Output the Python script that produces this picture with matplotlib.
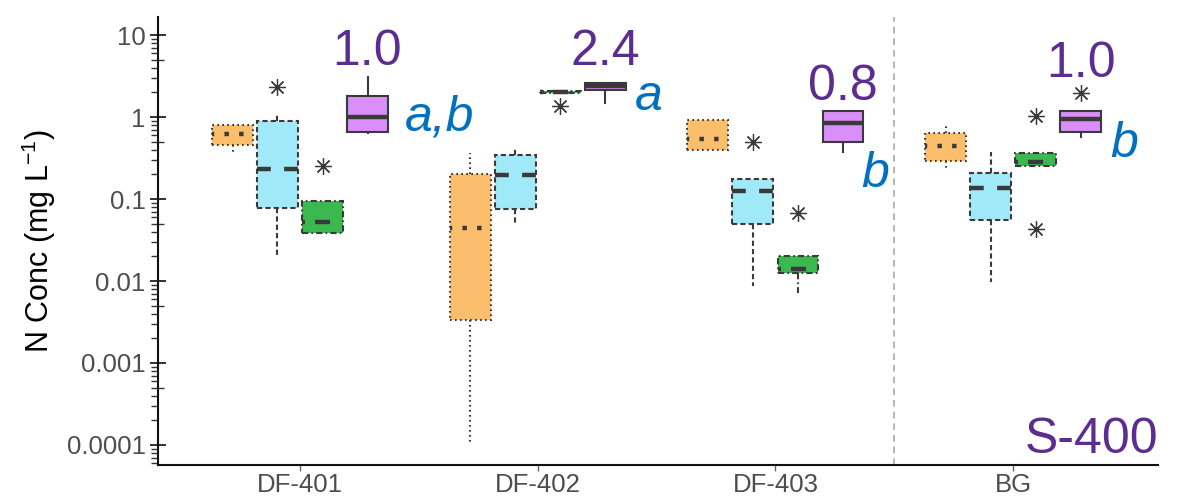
import matplotlib
matplotlib.use("Agg")
import matplotlib.pyplot as plt
from matplotlib import ticker

plt.rcParams['font.family'] = ['Liberation Sans', 'DejaVu Sans']
plt.rcParams['mathtext.default'] = 'regular'

sites = ['DF-401', 'DF-402', 'DF-403', 'BG']

# per-series box stats, one value per site (mg/L)
orange_q1 = [0.46, 0.0033, 0.40, 0.29]
orange_med = [0.62, 0.044, 0.54, 0.44]
orange_q3 = [0.80, 0.20, 0.92, 0.64]
orange_lo = [0.36, 0.0001, 0.40, 0.24]
orange_hi = [0.80, 0.36, 0.92, 0.82]
orange_out = [[], [], [], []]

blue_q1 = [0.078, 0.075, 0.050, 0.055]
blue_med = [0.23, 0.196, 0.125, 0.136]
blue_q3 = [0.89, 0.344, 0.175, 0.207]
blue_lo = [0.020, 0.048, 0.0087, 0.0097]
blue_hi = [1.09, 0.418, 0.175, 0.374]
blue_out = [[2.3], [], [0.50], []]

green_q1 = [0.0385, 1.96, 0.0125, 0.252]
green_med = [0.052, 2.0, 0.014, 0.283]
green_q3 = [0.095, 2.05, 0.020, 0.364]
green_lo = [0.0385, 1.96, 0.0071, 0.252]
green_hi = [0.095, 2.05, 0.020, 0.364]
green_out = [[0.25], [1.36], [0.0675], [1.03, 0.043]]

purple_q1 = [0.66, 2.13, 0.50, 0.66]
purple_med = [1.0, 2.42, 0.845, 0.945]
purple_q3 = [1.80, 2.62, 1.18, 1.18]
purple_lo = [0.64, 1.48, 0.374, 0.57]
purple_hi = [3.07, 2.62, 1.18, 1.18]
purple_out = [[], [], [], [1.96]]

mean_labels = ['1.0', '2.4', '0.8', '1.0']
letters = ['a,b', 'a', 'b', 'b']

# annotation placement
mean_y = [4.3, 4.3, 1.61, 3.07]
letter_x = [1.44, 2.41, 3.36, 4.41]
letter_y = [0.69, 1.22, 0.14, 0.325]

edge = '#3a3a3a'
# (stats..., fill, edge/whisker linestyle, median linestyle)
series = [
    (orange_q1, orange_med, orange_q3, orange_lo, orange_hi, orange_out,
     '#fbbe6c', (0, (0.8, 1.6)), (0.5, (1, 2.3))),
    (blue_q1, blue_med, blue_q3, blue_lo, blue_hi, blue_out,
     '#a0e9f9', (0, (2.5, 1.5)), (0, (3.1, 3.0))),
    (green_q1, green_med, green_q3, green_lo, green_hi, green_out,
     '#3cb94e', (0, (3, 1.5, 0.8, 1.5)), (0, (0.67, 2.25, 3.4, 2.9))),
    (purple_q1, purple_med, purple_q3, purple_lo, purple_hi, purple_out,
     '#da8ef7', '-', '-'),
]

fig = plt.figure(figsize=(11.83, 4.97), dpi=100)
ax = fig.add_axes([0.1336, 0.0644, 0.8453, 0.9014])

offsets = [-0.284, -0.095, 0.095, 0.284]
for k, (q1, med, q3, lo, hi, out, fc, ls, mls) in enumerate(series):
    stats = [dict(q1=q1[i], med=med[i], q3=q3[i], whislo=lo[i], whishi=hi[i],
                  fliers=out[i]) for i in range(len(sites))]
    pos = [i + 1 + offsets[k] for i in range(len(sites))]
    ax.bxp(stats, positions=pos, widths=0.172, patch_artist=True,
           showcaps=False,
           boxprops=dict(facecolor=fc, edgecolor=edge, linewidth=1.5, linestyle=ls),
           whiskerprops=dict(color=edge, linewidth=1.5, linestyle=ls),
           medianprops=dict(color=edge, linewidth=3.2, linestyle=mls),
           flierprops=dict(marker=(8, 2, 0), markersize=12, markeredgecolor=edge,
                           markeredgewidth=0.9, linestyle='none'))

ax.axvline(3.5, color='#aaaaaa', linestyle=(0, (4, 3)), linewidth=1.2, zorder=0)

for i in range(len(sites)):
    ax.text(i + 1 + offsets[3], mean_y[i], mean_labels[i], color='#5b2d90',
            fontsize=36, ha='center', va='baseline')
    ax.text(letter_x[i], letter_y[i], letters[i], color='#0070c0', fontsize=36,
            style='italic', ha='left', va='baseline')

ax.text(1.0, 0.027, 'S-400', transform=ax.transAxes, color='#5b2d90',
        fontsize=36, ha='right', va='baseline')

ax.set_yscale('log')
ax.set_ylim(5.7e-5, 16.6)
ax.set_xlim(0.4026, 4.6096)
ax.set_xticks(range(1, len(sites) + 1))
ax.set_xticklabels(sites)

ax.yaxis.set_major_locator(ticker.FixedLocator([1e-4, 1e-3, 1e-2, 1e-1, 1, 10]))
ax.yaxis.set_major_formatter(ticker.FixedFormatter(['0.0001', '0.001', '0.01', '0.1', '1', '10']))
ax.yaxis.set_minor_locator(ticker.LogLocator(base=10, subs=(2, 3, 4, 5, 6, 7, 8, 9), numticks=20))
ax.yaxis.set_minor_formatter(ticker.NullFormatter())

ax.tick_params(axis='y', which='major', direction='inout', length=12, width=1.3,
               color='#222222', labelsize=18.5, labelcolor='#4d4d4d', pad=3)
ax.tick_params(axis='y', which='minor', direction='out', length=5, width=1.0,
               color='#333333')
ax.tick_params(axis='x', which='major', direction='out', length=4, width=1.0,
               color='#666666', labelsize=18.5, labelcolor='#4d4d4d', pad=2)
ax.tick_params(axis='x', which='minor', bottom=False)

# inner half of the 5x ticks
sec = ax.secondary_yaxis('left')
sec.set_yticks([5e-4, 5e-3, 5e-2, 0.5, 5])
sec.yaxis.set_minor_locator(ticker.NullLocator())
sec.tick_params(direction='in', length=4, width=1.0, color='#333333', labelleft=False)
sec.spines['left'].set_visible(False)

for s in ['top', 'right']:
    ax.spines[s].set_visible(False)
for s in ['left', 'bottom']:
    ax.spines[s].set_linewidth(1.5)
    ax.spines[s].set_color('#111111')

ax.set_ylabel('N Conc (mg L$^{-1}$)', fontsize=22, color='black', labelpad=6)

fig.savefig('out.png', dpi=100)
